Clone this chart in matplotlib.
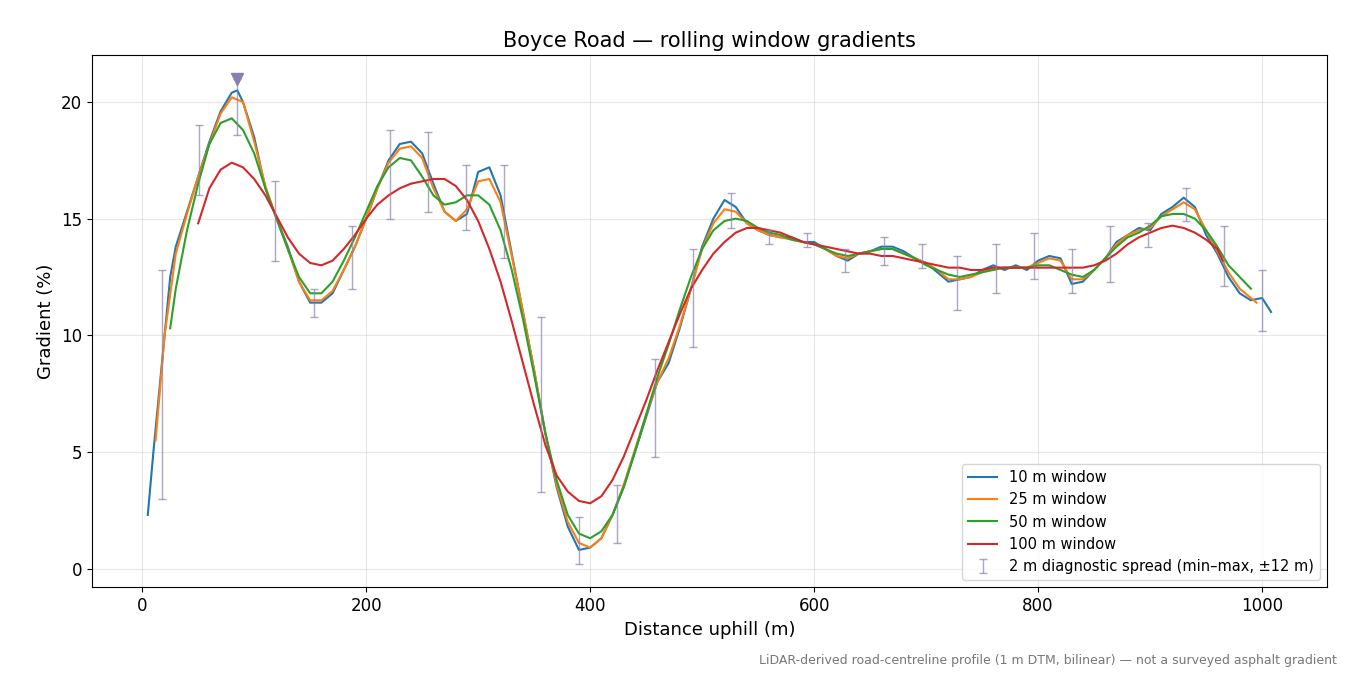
import matplotlib
matplotlib.use("Agg")
import matplotlib.pyplot as plt
import numpy as np

x10 = [5,10,15,20,25,30,40,50,60,70,80,85,90,100,110,120,130,140,150,160,170,180,190,200,210,220,230,240,250,260,270,280,290,300,310,320,330,340,350,360,370,380,390,400,410,420,430,440,450,460,470,480,490,500,510,520,530,540,550,560,570,580,590,600,610,620,630,640,650,660,670,680,690,700,710,720,730,740,750,760,770,780,790,800,810,820,830,840,850,860,870,880,890,900,910,920,930,940,950,960,970,980,990,1000,1008]
y10 = [2.3,5,7.5,10,12.5,13.8,15.3,16.8,18.3,19.6,20.4,20.5,20.0,18.5,16.3,15.0,13.8,12.3,11.4,11.4,11.8,12.8,13.8,15.0,16.3,17.5,18.2,18.3,17.8,16.5,15.3,14.9,15.2,17.0,17.2,16.0,13.5,11.0,8.5,5.8,3.5,1.8,0.8,0.9,1.3,2.3,3.5,5.0,6.5,8.0,8.8,10.3,12.0,13.8,15.0,15.8,15.5,14.8,14.5,14.3,14.2,14.2,14.0,14.0,13.7,13.4,13.2,13.5,13.6,13.8,13.8,13.6,13.3,13.1,12.7,12.3,12.4,12.5,12.8,13.0,12.8,13.0,12.8,13.2,13.4,13.3,12.2,12.3,12.8,13.3,14.0,14.3,14.6,14.5,15.2,15.5,15.9,15.5,14.3,13.5,12.5,11.8,11.5,11.6,11.0]

x25 = [12,20,30,40,50,60,70,80,90,100,110,120,130,140,150,160,170,180,190,200,210,220,230,240,250,260,270,280,290,300,310,320,330,340,350,360,370,380,390,400,410,420,430,440,450,460,470,480,490,500,510,520,530,540,550,560,570,580,590,600,610,620,630,640,650,660,670,680,690,700,710,720,730,740,750,760,770,780,790,800,810,820,830,840,850,860,870,880,890,900,910,920,930,940,950,960,970,980,990,995]
y25 = [5.5,10,13.5,15.2,16.8,18.2,19.5,20.2,20.0,18.3,16.4,15.0,13.7,12.3,11.5,11.5,11.9,12.8,13.8,15.0,16.3,17.4,18.0,18.1,17.6,16.3,15.3,14.9,15.4,16.6,16.7,15.7,13.4,11.0,8.5,5.8,3.6,2.0,1.1,0.9,1.3,2.3,3.6,5.1,6.6,8.0,9.0,10.4,12.0,13.7,14.8,15.4,15.3,14.8,14.5,14.3,14.2,14.1,14.0,13.9,13.7,13.4,13.3,13.5,13.6,13.7,13.7,13.5,13.3,13.1,12.8,12.4,12.4,12.5,12.7,12.9,12.9,12.9,12.9,13.1,13.3,13.2,12.4,12.4,12.8,13.3,13.9,14.3,14.5,14.6,15.1,15.4,15.7,15.4,14.5,13.6,12.7,12.0,11.6,11.4]

x50 = [25,30,40,50,60,70,80,90,100,110,120,130,140,150,160,170,180,190,200,210,220,230,240,250,260,270,280,290,300,310,320,330,340,350,360,370,380,390,400,410,420,430,440,450,460,470,480,490,500,510,520,530,540,550,560,570,580,590,600,610,620,630,640,650,660,670,680,690,700,710,720,730,740,750,760,770,780,790,800,810,820,830,840,850,860,870,880,890,900,910,920,930,940,950,960,970,980,990]
y50 = [10.3,12,14.5,16.5,18.2,19.1,19.3,18.8,17.8,16.3,15.0,13.7,12.5,11.8,11.8,12.3,13.2,14.2,15.3,16.4,17.2,17.6,17.5,16.8,16.0,15.6,15.7,16.0,16.0,15.6,14.5,12.8,10.7,8.3,5.8,3.8,2.3,1.5,1.3,1.6,2.3,3.5,5.0,6.6,8.2,9.6,11.1,12.5,13.7,14.5,14.9,15.0,14.9,14.6,14.4,14.3,14.1,14.0,13.9,13.7,13.5,13.4,13.5,13.6,13.7,13.7,13.5,13.3,13.0,12.8,12.6,12.5,12.6,12.7,12.8,12.9,12.9,12.9,13.0,13.0,12.8,12.6,12.5,12.8,13.3,13.8,14.2,14.4,14.7,15.1,15.2,15.2,15.0,14.5,13.8,13.0,12.5,12.0]

x100 = [50,60,70,80,90,100,110,120,130,140,150,160,170,180,190,200,210,220,230,240,250,260,270,280,290,300,310,320,330,340,350,360,370,380,390,400,410,420,430,440,450,460,470,480,490,500,510,520,530,540,550,560,570,580,590,600,610,620,630,640,650,660,670,680,690,700,710,720,730,740,750,760,770,780,790,800,810,820,830,840,850,860,870,880,890,900,910,920,930,940,950,960,965]
y100 = [14.8,16.3,17.1,17.4,17.2,16.7,16.0,15.1,14.2,13.5,13.1,13.0,13.2,13.7,14.3,15.0,15.6,16.0,16.3,16.5,16.6,16.7,16.7,16.4,15.8,14.9,13.7,12.3,10.6,8.8,7.0,5.3,4.0,3.3,2.9,2.8,3.1,3.8,4.8,6.0,7.2,8.5,9.7,10.9,12.0,12.8,13.5,14.0,14.4,14.6,14.6,14.5,14.4,14.2,14.0,13.9,13.8,13.7,13.6,13.5,13.5,13.4,13.4,13.3,13.2,13.1,13.0,12.9,12.9,12.8,12.8,12.9,12.9,12.9,12.9,12.9,12.9,12.9,12.9,12.9,13.0,13.2,13.5,13.9,14.2,14.4,14.6,14.7,14.6,14.4,14.1,13.7,13.2]

xe = [18,51,85,119,153,187,221,255,289,323,356,390,424,458,492,526,560,594,628,662,696,728,762,796,830,864,898,932,966,1000]
emin = [3.0,16.0,18.6,13.2,10.8,12.0,15.0,15.3,14.5,13.3,3.3,0.2,1.1,4.8,9.5,14.6,13.9,13.8,12.7,13.0,12.9,11.1,11.8,12.4,11.8,12.3,13.8,14.9,12.1,10.2]
emax = [12.8,19.0,21.0,16.6,12.0,14.7,18.8,18.7,17.3,17.3,10.8,2.2,3.6,9.0,13.7,16.1,14.5,14.4,13.7,14.2,13.9,13.4,13.9,14.4,13.7,14.7,14.8,16.3,14.7,12.8]
peak_x, peak_y = 85, 21.0

fig, ax = plt.subplots(figsize=(13.5, 6.75), dpi=100)
ax.plot(x10, y10, color='#1f77b4', lw=1.5, label='10 m window')
ax.plot(x25, y25, color='#ff7f0e', lw=1.5, label='25 m window')
ax.plot(x50, y50, color='#2ca02c', lw=1.5, label='50 m window')
ax.plot(x100, y100, color='#d62728', lw=1.5, label='100 m window')
emin_a = np.array(emin); emax_a = np.array(emax)
mid = (emin_a + emax_a) / 2
ax.errorbar(xe, mid, yerr=[mid - emin_a, emax_a - mid], fmt='none', ecolor='#8a7fb0',
            alpha=0.7, elinewidth=1, capsize=3, label='2 m diagnostic spread (min–max, ±12 m)')
ax.plot([peak_x], [peak_y], marker='v', color='#8a7fb0', ms=8, ls='none')
ax.set_xlim(-45, 1058)
ax.set_ylim(-0.8, 22)
ax.set_xticks([0, 200, 400, 600, 800, 1000])
ax.set_yticks([0, 5, 10, 15, 20])
ax.tick_params(labelsize=12)
ax.grid(True, alpha=0.3)
ax.set_xlabel('Distance uphill (m)', fontsize=13)
ax.set_ylabel('Gradient (%)', fontsize=13)
ax.set_title('Boyce Road — rolling window gradients', fontsize=15)
ax.legend(loc='lower right', fontsize=10.5)
fig.text(0.99, 0.012, 'LiDAR-derived road-centreline profile (1 m DTM, bilinear) — not a surveyed asphalt gradient',
         ha='right', va='bottom', fontsize=9, color='#777777')
fig.subplots_adjust(left=0.068, right=0.983, top=0.918, bottom=0.13)
fig.savefig('out.png', dpi=100)
